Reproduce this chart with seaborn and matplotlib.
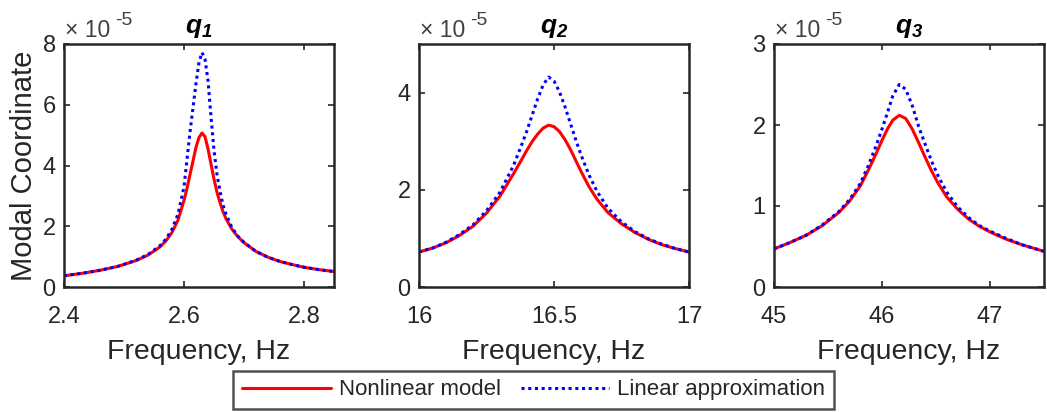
import matplotlib
matplotlib.use("Agg")
import matplotlib.pyplot as plt
import pandas as pd
import seaborn as sns

# values in units of 1e-5
q1_freq = [2.40, 2.43, 2.46, 2.49, 2.52, 2.54, 2.56, 2.57, 2.58, 2.59, 2.60, 2.605,
           2.61, 2.615, 2.62, 2.625, 2.63, 2.635, 2.64, 2.645, 2.65, 2.655, 2.66, 2.665,
           2.67, 2.68, 2.69, 2.70, 2.72, 2.74, 2.76, 2.78, 2.80, 2.825, 2.85]
q1_nonlin = [0.37, 0.45, 0.55, 0.68, 0.87, 1.05, 1.32, 1.52, 1.80, 2.20, 2.85, 3.25,
             3.70, 4.15, 4.60, 4.92, 5.07, 4.95, 4.55, 4.05, 3.55, 3.12, 2.78, 2.48,
             2.25, 1.90, 1.65, 1.46, 1.17, 0.98, 0.84, 0.74, 0.65, 0.57, 0.51]
q1_lin = [0.37, 0.45, 0.55, 0.68, 0.88, 1.07, 1.36, 1.58, 1.90, 2.40, 3.30, 4.20,
          5.10, 5.90, 6.70, 7.40, 7.72, 7.50, 6.80, 5.60, 4.50, 3.70, 3.15, 2.70,
          2.40, 1.95, 1.67, 1.47, 1.17, 0.98, 0.84, 0.74, 0.65, 0.57, 0.51]

q2_freq = [16.00, 16.05, 16.10, 16.15, 16.20, 16.25, 16.30, 16.35, 16.38, 16.40, 16.42,
           16.44, 16.46, 16.48, 16.50, 16.52, 16.54, 16.56, 16.58, 16.60, 16.63, 16.66,
           16.70, 16.75, 16.80, 16.85, 16.90, 16.95, 17.00]
q2_nonlin = [0.72, 0.80, 0.91, 1.06, 1.25, 1.52, 1.87, 2.33, 2.62, 2.82, 3.00,
             3.15, 3.27, 3.33, 3.30, 3.20, 3.04, 2.84, 2.61, 2.38, 2.06, 1.80,
             1.53, 1.30, 1.12, 0.98, 0.87, 0.79, 0.72]
q2_lin = [0.72, 0.80, 0.92, 1.08, 1.28, 1.57, 1.95, 2.50, 2.92, 3.22, 3.55,
          3.88, 4.16, 4.32, 4.24, 4.02, 3.72, 3.38, 3.04, 2.72, 2.30, 1.96,
          1.62, 1.34, 1.14, 0.99, 0.88, 0.79, 0.72]

q3_freq = [45.00, 45.15, 45.30, 45.45, 45.60, 45.70, 45.80, 45.88, 45.95, 46.00, 46.05,
           46.10, 46.16, 46.22, 46.28, 46.34, 46.40, 46.46, 46.52, 46.60, 46.70, 46.80,
           46.90, 47.00, 47.15, 47.30, 47.50]
q3_nonlin = [0.47, 0.55, 0.64, 0.76, 0.92, 1.06, 1.25, 1.46, 1.66, 1.81, 1.95,
             2.06, 2.12, 2.08, 1.95, 1.78, 1.60, 1.43, 1.28, 1.11, 0.96, 0.84,
             0.75, 0.68, 0.59, 0.52, 0.44]
q3_lin = [0.47, 0.55, 0.64, 0.77, 0.93, 1.08, 1.28, 1.52, 1.76, 1.95, 2.15,
          2.36, 2.50, 2.44, 2.24, 1.98, 1.76, 1.55, 1.37, 1.17, 0.99, 0.86,
          0.76, 0.69, 0.60, 0.52, 0.44]

titles = [r"$\mathbfit{q}_{\mathbfit{1}}$", r"$\mathbfit{q}_{\mathbfit{2}}$", r"$\mathbfit{q}_{\mathbfit{3}}$"]
xlims = [(2.4, 2.85), (16, 17), (45, 47.5)]
xticks = [[2.4, 2.6, 2.8], [16, 16.5, 17], [45, 46, 47]]
xticklabels = [["2.4", "2.6", "2.8"], ["16", "16.5", "17"], ["45", "46", "47"]]
ylims = [(0, 8), (0, 5), (0, 3)]
yticks = [[0, 2, 4, 6, 8], [0, 2, 4], [0, 1, 2, 3]]

series = [(q1_freq, q1_nonlin, q1_lin), (q2_freq, q2_nonlin, q2_lin), (q3_freq, q3_nonlin, q3_lin)]

sns.set_theme(style="white")
plt.rcParams['font.family'] = ['Liberation Sans', 'DejaVu Sans']
plt.rcParams['mathtext.fontset'] = 'custom'
plt.rcParams['mathtext.rm'] = 'Liberation Sans'
plt.rcParams['mathtext.it'] = 'Liberation Sans:italic'
plt.rcParams['mathtext.bf'] = 'Liberation Sans:bold'
plt.rcParams['mathtext.bfit'] = 'Liberation Sans:bold:italic'

dark = '#262626'
fig = plt.figure(figsize=(10.47, 4.12), dpi=100)
lefts = [64 / 1047, 419 / 1047, 774 / 1047]
axes = [fig.add_axes([l, 1 - 287 / 412, 270 / 1047, 243 / 412]) for l in lefts]

for i, ax in enumerate(axes):
    freq, nonlin, lin = series[i]
    df = pd.DataFrame({'f': freq, 'nl': nonlin, 'lin': lin})
    sns.lineplot(data=df, x='f', y='nl', ax=ax, color='#ff0000', linewidth=2.2,
                 label='Nonlinear model', legend=False)
    sns.lineplot(data=df, x='f', y='lin', ax=ax, color='#0000ff', linewidth=2.2,
                 linestyle=(0, (1, 1.2)), label='Linear approximation', legend=False)
    ax.set_xlim(*xlims[i])
    ax.set_ylim(*ylims[i])
    ax.set_xticks(xticks[i])
    ax.set_xticklabels(xticklabels[i])
    ax.set_yticks(yticks[i])
    ax.set_yticklabels([str(v) for v in yticks[i]])
    ax.tick_params(direction='in', length=4, width=1.2, colors=dark, labelsize=17,
                   top=True, right=True, bottom=True, left=True)
    ax.tick_params(axis='x', pad=14)
    ax.tick_params(axis='y', pad=6)
    for sp in ax.spines.values():
        sp.set_linewidth(1.8)
        sp.set_color(dark)
    ax.set_xlabel('Frequency, Hz', fontsize=20.5, color=dark, labelpad=7.5)
    ax.set_ylabel('Modal Coordinate' if i == 0 else '', fontsize=21, color=dark, labelpad=3)
    ax.set_title(titles[i], fontsize=19, color='black', pad=8)
    # MATLAB style exponent label
    ax.annotate('× 10', xy=(0, 1), xycoords='axes fraction', xytext=(1, 5),
                textcoords='offset points', fontsize=16.5, color='#404040',
                ha='left', va='baseline')
    ax.annotate('-5', xy=(0, 1), xycoords='axes fraction', xytext=(37, 13.5),
                textcoords='offset points', fontsize=14, color='#404040',
                ha='left', va='baseline')

handles, labels = axes[0].get_legend_handles_labels()
leg = fig.legend(handles, labels, loc='center', bbox_to_anchor=(0.5096, 0.0534), ncol=2,
                 fontsize=16, frameon=True, fancybox=False, handlelength=4.0,
                 columnspacing=0.9, borderpad=0.4, handletextpad=0.36)
leg.get_frame().set_edgecolor(dark)
leg.get_frame().set_linewidth(1.8)

fig.savefig('out.png', dpi=100)
